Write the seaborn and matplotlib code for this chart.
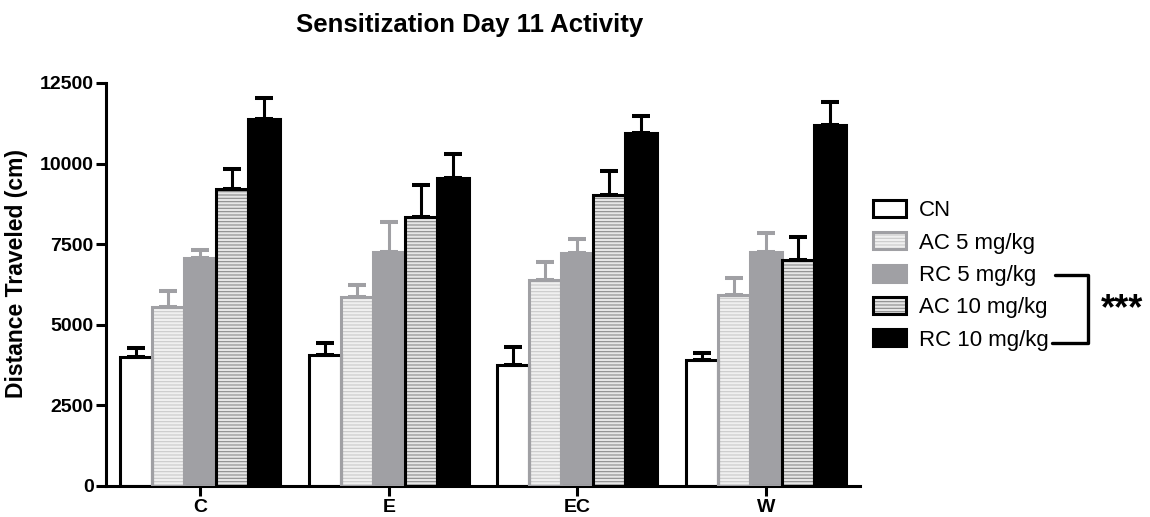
import numpy as np
import pandas as pd
import seaborn as sns
import matplotlib.pyplot as plt
from matplotlib.patches import Patch, Rectangle
from matplotlib.lines import Line2D
from matplotlib.legend_handler import HandlerTuple

# ---- data -------------------------------------------------------------
groups = ["C", "E", "EC", "W"]
treatments = ["CN", "AC 5 mg/kg", "RC 5 mg/kg", "AC 10 mg/kg", "RC 10 mg/kg"]

cn_mean = [4010, 4060, 3750, 3910]
ac5_mean = [5540, 5870, 6390, 5920]
rc5_mean = [7060, 7270, 7220, 7270]
ac10_mean = [9200, 8350, 9030, 7010]
rc10_mean = [11380, 9540, 10960, 11200]

cn_sem = [270, 380, 550, 230]
ac5_sem = [510, 360, 550, 520]
rc5_sem = [260, 930, 440, 570]
ac10_sem = [620, 1000, 740, 700]
rc10_sem = [670, 750, 530, 700]

y_ticks = [0, 2500, 5000, 7500, 10000, 12500]

means = [cn_mean, ac5_mean, rc5_mean, ac10_mean, rc10_mean]
sems = [cn_sem, ac5_sem, rc5_sem, ac10_sem, rc10_sem]

df = pd.DataFrame({
    "group": np.repeat([groups], len(treatments), axis=0).ravel(),
    "treatment": np.repeat(treatments, len(groups)),
    "distance": np.concatenate(means),
    "sem": np.concatenate(sems),
})

# ---- styles -----------------------------------------------------------
GRAY = "#A0A0A4"
styles = {
    "CN":          dict(face="white",   hatch=None,    hcol=None,      edge="black", err="black"),
    "AC 5 mg/kg":  dict(face="#F0F0F0", hatch="-----", hcol="#CACACA", edge=GRAY,    err=GRAY),
    "RC 5 mg/kg":  dict(face=GRAY,      hatch=None,    hcol=None,      edge=GRAY,    err=GRAY),
    "AC 10 mg/kg": dict(face="#E6E6E6", hatch="-----", hcol="#8A8A8A", edge="black", err="black"),
    "RC 10 mg/kg": dict(face="black",   hatch=None,    hcol=None,      edge="black", err="black"),
}

sns.set_style("ticks")
plt.rcParams["font.family"] = ["Liberation Sans", "DejaVu Sans"]
plt.rcParams["hatch.linewidth"] = 0.8
for key in ("text.color", "axes.labelcolor", "xtick.color", "ytick.color",
            "axes.edgecolor"):
    plt.rcParams[key] = "black"

fig = plt.figure(figsize=(11.5, 5.17), dpi=100)
W, H = 1150, 517
ax = fig.add_axes([106 / W, 1 - 486 / H, (860 - 106) / W, (486 - 83) / H])

sns.barplot(
    data=df, x="group", y="distance", hue="treatment",
    order=groups, hue_order=treatments,
    palette={t: styles[t]["face"] for t in treatments},
    width=0.85, gap=0, errorbar=None, legend=False,
    linewidth=0, edgecolor="none", ax=ax,
)

EDGE_LW = 2.2
for t, cont in zip(treatments, ax.containers):
    st = styles[t]
    sub = df[df.treatment == t].set_index("group").loc[groups]
    xs, tops = [], []
    for bar in cont:
        if st["hatch"]:
            bar.set_hatch(st["hatch"])
            bar.set_edgecolor(st["hcol"])
            bar.set_linewidth(0)
        outline = Rectangle(bar.get_xy(), bar.get_width(), bar.get_height(),
                            fill=False, edgecolor=st["edge"], linewidth=EDGE_LW,
                            joinstyle="miter", zorder=3)
        ax.add_patch(outline)
        xs.append(bar.get_x() + bar.get_width() / 2)
        tops.append(bar.get_height())
    ax.errorbar(xs, tops, yerr=[np.zeros(len(xs)), sub["sem"].values],
                fmt="none", ecolor=st["err"], elinewidth=2.2,
                capsize=6.8, capthick=2.9, zorder=2)

ax.set_xlim(-0.5, 3.5)
ax.set_ylim(0, 12500)
ax.set_yticks(y_ticks)
ax.set_yticklabels([str(v) for v in y_ticks])
ax.set_xlabel("")
ax.set_ylabel("")
for s in ("left", "bottom"):
    ax.spines[s].set_linewidth(2.2)
    ax.spines[s].set_color("black")
ax.spines["top"].set_visible(False)
ax.spines["right"].set_visible(False)
ax.tick_params(axis="both", length=7, width=2.2, color="black",
               labelcolor="black", labelsize=14, pad=2)
for lab in ax.get_xticklabels() + ax.get_yticklabels():
    lab.set_fontweight("bold")

fig.text(470 / W, 1 - 32 / H, "Sensitization Day 11 Activity",
         ha="center", va="baseline", fontsize=18.5, fontweight="bold")
fig.text(17 / W, 1 - 274 / H, "Distance Traveled (cm)", rotation=90,
         ha="center", va="center", fontsize=16.5, fontweight="bold")

# ---- legend -----------------------------------------------------------
handles = []
for t in treatments:
    st = styles[t]
    if st["hatch"]:
        base = Patch(facecolor=st["face"], hatch=st["hatch"],
                     edgecolor=st["hcol"], linewidth=0)
        rim = Patch(facecolor="none", edgecolor=st["edge"], linewidth=EDGE_LW)
        handles.append((base, rim))
    else:
        handles.append(Patch(facecolor=st["face"], edgecolor=st["edge"],
                             linewidth=EDGE_LW))
fig.legend(handles, treatments, handler_map={tuple: HandlerTuple(ndivide=1, pad=0)},
           loc="upper left", bbox_to_anchor=(873 / W, 1 - 200 / H),
           frameon=False, fontsize=16, handlelength=1.48, handleheight=0.8,
           handletextpad=0.6, labelspacing=0.5, borderpad=0, borderaxespad=0)

# significance bracket
px = lambda x, y: (x / W, 1 - y / H)
xa, ya = px(1055, 275)
xb, yb = px(1088, 343)
xc, _ = px(1052, 343)
fig.add_artist(Line2D([xa, xb, xb, xc], [ya, ya, yb, yb],
                      transform=fig.transFigure, color="black", linewidth=2.4))
sx, sy = px(1122, 310)
fig.text(sx, sy, "***", ha="center", va="center", fontsize=26, fontweight="bold")

fig.savefig("out.png", dpi=100)
